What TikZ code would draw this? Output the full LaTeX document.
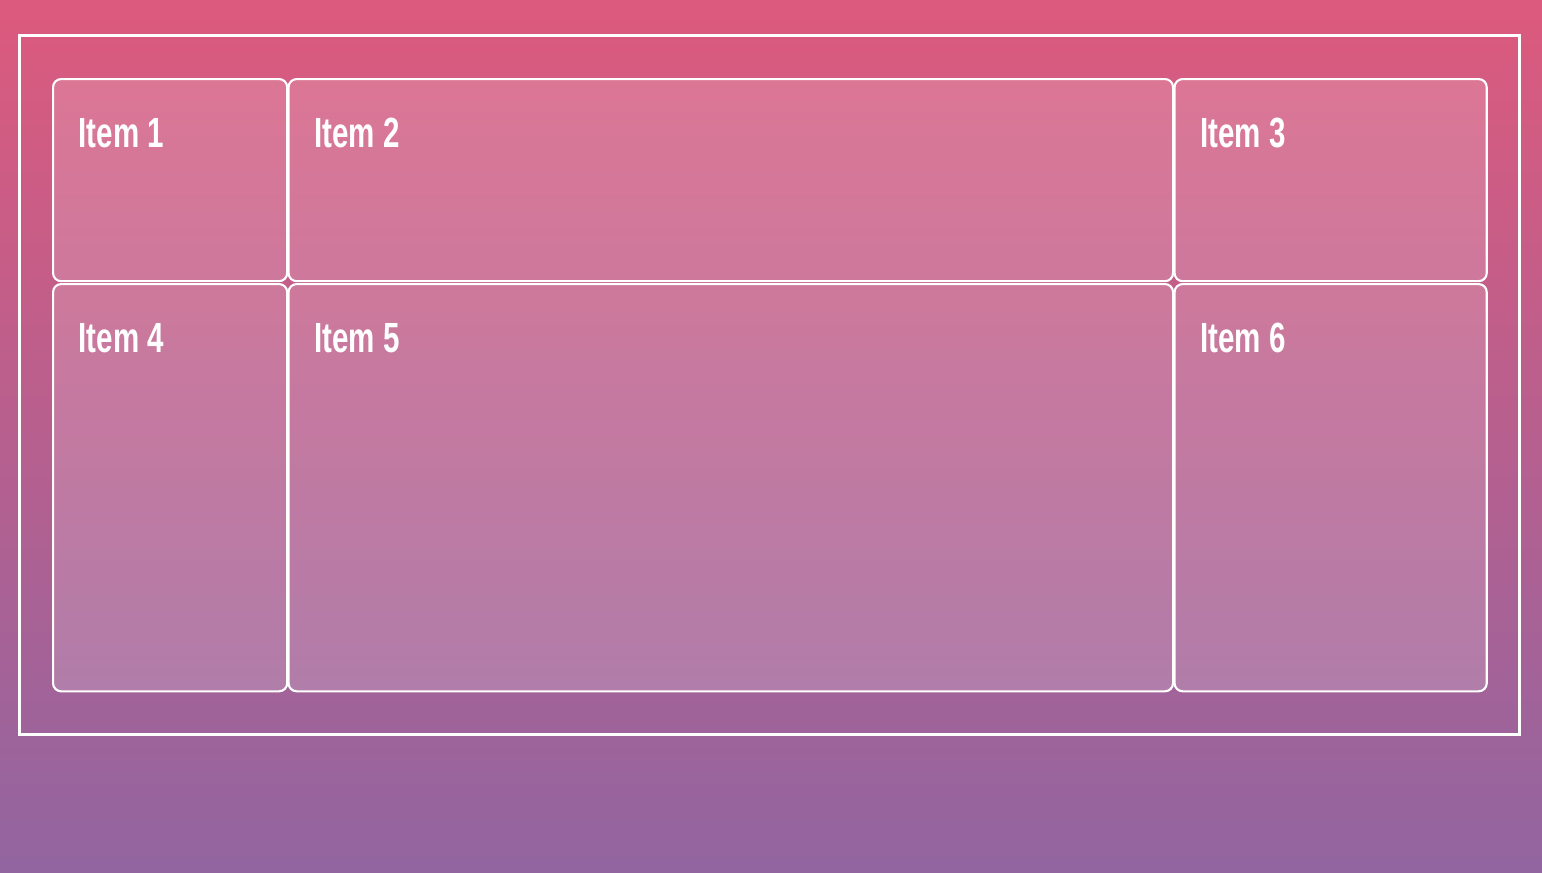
\documentclass[tikz,border=0pt]{standalone}
\usepackage{fontspec}
\setmainfont{Liberation Sans}
\usetikzlibrary{positioning}
\definecolor{bgtop}{HTML}{DC5A7D}
\definecolor{bgbottom}{HTML}{9265A0}
\newcommand{\narrowtext}[1]{\scalebox{0.7}[1]{\bfseries #1}}
\tikzset{
  cellbox/.style = {shape=rectangle, rounded corners=2.3pt, draw=white, line width=0.6pt,
                    fill=white, fill opacity=0.17, text opacity=1, anchor=north west, inner sep=0pt},
  itemlabel/.style = {text=white, font=\fontsize{12}{14}\selectfont, inner sep=0pt, anchor=base west}
}
\begin{document}
\begin{tikzpicture}[x=0.01cm, y=-0.01cm]
  % background and frame
  \shade[top color=bgtop, bottom color=bgbottom] (0,0) rectangle (1542,872);
  \useasboundingbox (0,0) rectangle (1542,872);
  \draw[white, line width=0.85pt] (19.5,35.5) rectangle (1519.5,734);

  % grid cells
  \node[cellbox, minimum width=2.34cm, minimum height=2.02cm] (cell1) at (52,78) {};
  \node[cellbox, minimum width=8.84cm, minimum height=2.02cm] (cell2) at (287.5,78) {};
  \node[cellbox, minimum width=3.12cm, minimum height=2.02cm] (cell3) at (1173.5,78) {};
  \node[cellbox, minimum width=2.34cm, minimum height=4.07cm] (cell4) at (52,283) {};
  \node[cellbox, minimum width=8.84cm, minimum height=4.07cm] (cell5) at (287.5,283) {};
  \node[cellbox, minimum width=3.12cm, minimum height=4.07cm] (cell6) at (1173.5,283) {};

  % labels
  \foreach \i in {1,...,6}
    \node[itemlabel] (label\i) at ([xshift=0.26cm, yshift=-0.69cm]cell\i.north west) {\narrowtext{Item \i}};
\end{tikzpicture}
\end{document}
